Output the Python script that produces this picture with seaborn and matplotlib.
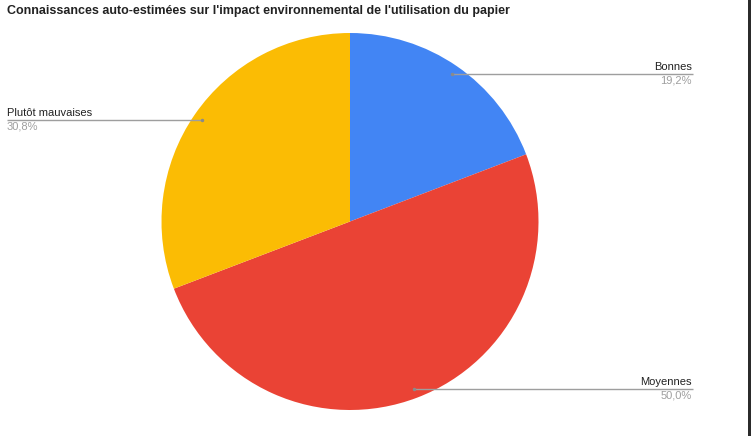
import numpy as np
import matplotlib
matplotlib.use("Agg")
import matplotlib.pyplot as plt
import seaborn as sns

title = "Connaissances auto-estimées sur l'impact environnemental de l'utilisation du papier"
categories = ["Bonnes", "Moyennes", "Plutôt mauvaises"]
values = [19.2, 50.0, 30.8]
pct_labels = ["19,2%", "50,0%", "30,8%"]
colors = ["#4285F4", "#EA4335", "#FBBC04"]

sns.set_theme(style="white")
plt.rcParams['font.family'] = ['Liberation Sans', 'DejaVu Sans']

W, H = 751, 436
fig = plt.figure(figsize=(W / 100, H / 100), dpi=100)
ax = fig.add_axes([0, 0, 1, 1])

cx, cy_px, r = 350, 221.5, 188.5
cy = H - cy_px
palette = sns.color_palette(colors)
wedges, _ = ax.pie(values, colors=palette, startangle=90, counterclock=False,
                   center=(cx, cy), radius=r,
                   wedgeprops=dict(linewidth=0))
ax.set_xlim(0, W)
ax.set_ylim(0, H)
ax.set_aspect('auto')
ax.axis('off')

fig.text(7 / W, 1 - 11 / H, title, fontsize=9.0, fontweight='bold',
         color='#222222', ha='left', va='center')

total = sum(values)
cum = 0
for cat, v, p in zip(categories, values, pct_labels):
    mid = (cum + v / 2) / total * 2 * np.pi
    cum += v
    dx, dy = np.sin(mid), np.cos(mid)
    px, py = cx + 0.951 * r * dx, cy + 0.951 * r * dy
    if dx >= 0:
        x_end, ha, tx = 692.5, 'right', 692
    else:
        x_end, ha, tx = 7, 'left', 7
    ax.plot([px, x_end], [py, py], color='#9e9e9e', lw=1.0, solid_capstyle='butt')
    ax.plot([px], [py], 'o', ms=2.5, color='#8a8a8a', mec='none')
    ax.text(tx, py + 7.3, cat, fontsize=8.0, color='#222222', ha=ha, va='center')
    ax.text(tx, py - 6.5, p, fontsize=8.0, color='#9e9e9e', ha=ha, va='center')

ax.add_patch(plt.Rectangle((748, 0), 3, H, color='#2b2b2b', lw=0, clip_on=False))

fig.savefig("out.png", dpi=100, facecolor='white')
